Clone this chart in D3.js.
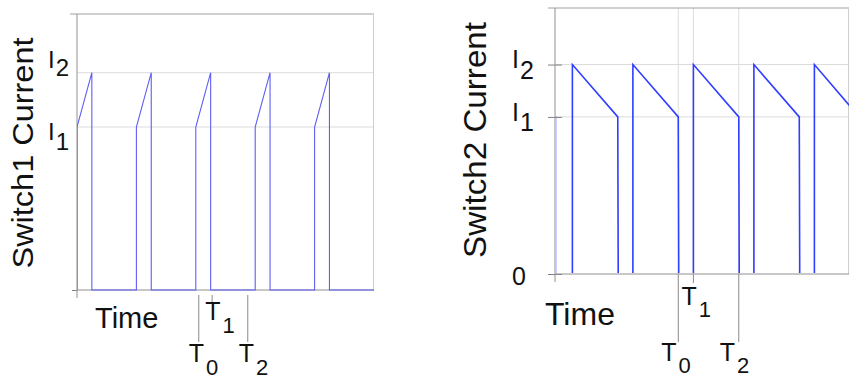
<!DOCTYPE html>
<html>
<head>
<meta charset="utf-8">
<script src="https://cdn.jsdelivr.net/npm/d3@7"></script>
<style>
  body { margin: 0; background: #fff; }
  svg { display: block; font-family: "Liberation Sans", Arial, sans-serif; }
</style>
</head>
<body>
<div id="chart"></div>
<script>
// current levels: 0, I1, I2
const levels = [0, 0.75, 1];
const levelNames = ["0", "I", "I"];
const levelSubs = ["", "1", "2"];

// switch 1: ramps up I1 -> I2 while on, 0 while off
const sw1Time = [0, 0, 1, 1, 4, 4, 5, 5, 8, 8, 9, 9, 12, 12, 13, 13, 16, 16, 17, 17, 20];
const sw1Current = [0, 0.75, 1, 0, 0, 0.75, 1, 0, 0, 0.75, 1, 0, 0, 0.75, 1, 0, 0, 0.75, 1, 0, 0];

// switch 2: ramps down I2 -> I1 while on, 0 while off
const sw2Time = [0, 0.03, 0.03, 1.15, 1.15, 4.15, 4.18, 5.15, 5.15, 8.15, 8.18, 9.15, 9.15, 12.15, 12.18,
  13.15, 13.15, 16.15, 16.18, 17.15, 17.15, 20];
const sw2Current = [0.76, 0.75, 0, 0, 1, 0.75, 0, 0, 1, 0.75, 0, 0, 1, 0.75, 0, 0, 1, 0.75, 0, 0, 1, 0.76];

const markNames = ["T", "T", "T"];
const markSubs = ["0", "1", "2"];
const sw1Marks = [8.2, 9.1, 11.5];
const sw2Marks = [8.15, 9.15, 12.15];

const timeDomain = [0, 20];
const currentDomain = [0, 1.27];

const panels = [
  {
    time: sw1Time, current: sw1Current, marks: sw1Marks,
    left: 77, right: 374, top: 14, bottom: 290, clipLeft: 77, clipRight: 374, clipBottom: 292,
    title: "Switch1 Current", titleX: 33, titleY: 153, titleSize: 29, titleLen: 231,
    timeX: 95, timeY: 328, timeSize: 29,
    levelShown: [false, true, true], levelTicks: [0],
    levelX: 48, levelDy: [0, 13, -5], levelSize: 24, levelSub: [0, 10, 8],
    markGrid: false, markTop: 295, markEnd: [342, 303, 342],
    markDx: [-10, -7, -9], markY: [362, 320, 362], markSize: 25, markSub: 13,
    stroke: "#5f5ff2", strokeWidth: 1.1, axisOnTop: false
  },
  {
    time: sw2Time, current: sw2Current, marks: sw2Marks,
    left: 555, right: 857.5, top: 8, bottom: 274, clipLeft: 556, clipRight: 849, clipBottom: 273,
    title: "Switch2 Current", titleX: 486, titleY: 140, titleSize: 32, titleLen: 236,
    timeX: 545, timeY: 325, timeSize: 32,
    levelShown: [true, true, true], levelTicks: [0, 0.75, 1],
    levelX: 512, levelDy: [11, 4, 3], levelSize: 25, levelSub: [0, 10, 11],
    markGrid: true, markTop: 274, markEnd: [342, 283, 342],
    markDx: [-17, -12, -19], markY: [361, 305, 361], markSize: 25, markSub: 12,
    stroke: "#2f3dff", strokeWidth: 1.6, axisOnTop: true
  }
];

const svg = d3.select("#chart")
  .append("svg")
  .attr("width", 849)
  .attr("height", 379);

panels.forEach((p, i) => {
  const x = d3.scaleLinear().domain(timeDomain).range([p.left, p.right]);
  const y = d3.scaleLinear().domain(currentDomain).range([p.bottom, p.top]);
  const g = svg.append("g");

  g.append("defs")
    .append("clipPath")
    .attr("id", "clip" + i)
    .append("rect")
    .attr("x", p.clipLeft)
    .attr("y", p.top - 2)
    .attr("width", p.clipRight - p.clipLeft)
    .attr("height", p.clipBottom - p.top + 2);

  // horizontal grid at I1, I2
  g.selectAll("line.hgrid")
    .data(levels.filter(v => v > 0))
    .enter()
    .append("line")
    .attr("class", "hgrid")
    .attr("x1", p.left)
    .attr("x2", p.clipRight)
    .attr("y1", d => y(d))
    .attr("y2", d => y(d))
    .style("stroke", "#dcdcdc");

  if (p.markGrid) {
    g.selectAll("line.vgrid")
      .data(p.marks)
      .enter()
      .append("line")
      .attr("class", "vgrid")
      .attr("x1", d => x(d))
      .attr("x2", d => x(d))
      .attr("y1", p.top)
      .attr("y2", p.bottom)
      .style("stroke", "#dcdcdc");
  }

  // frame: top and right
  g.append("line")
    .attr("x1", p.left - 7).attr("x2", p.clipRight)
    .attr("y1", p.top).attr("y2", p.top)
    .style("stroke", "#a0a0a0");
  g.append("line")
    .attr("x1", p.clipRight - 0.5).attr("x2", p.clipRight - 0.5)
    .attr("y1", p.top).attr("y2", p.bottom)
    .style("stroke", "#cfcfcf");

  // waveform
  const line = d3.line()
    .x(d => x(d[0]))
    .y(d => y(d[1]));

  const drawWave = () =>
    g.append("path")
      .datum(d3.zip(p.time, p.current))
      .attr("clip-path", "url(#clip" + i + ")")
      .attr("d", line)
      .style("fill", "none")
      .style("stroke", p.stroke)
      .style("stroke-width", p.strokeWidth);

  if (p.axisOnTop) drawWave();

  // axes
  g.append("g")
    .attr("transform", "translate(" + p.left + ",0)")
    .call(d3.axisLeft(y).tickValues(p.levelTicks).tickSize(7).tickFormat(""))
    .call(a => a.select(".domain").remove())
    .call(a => a.selectAll(".tick line").attr("x1", i ? 7 : 0).attr("x2", i ? -7 : -5).style("stroke", "#808080"));

  g.append("line")
    .attr("x1", p.left).attr("x2", p.left)
    .attr("y1", p.top).attr("y2", p.bottom + 8)
    .style("stroke", "#909090");
  g.append("line")
    .attr("x1", p.left).attr("x2", p.clipRight)
    .attr("y1", y(0)).attr("y2", y(0))
    .style("stroke", "#909090");

  if (!p.axisOnTop) drawWave();

  // level labels
  const lab = g.selectAll("text.level")
    .data(levels.filter((v, k) => p.levelShown[k]))
    .enter()
    .append("text")
    .attr("class", "level")
    .attr("x", p.levelX)
    .attr("y", d => y(d) + p.levelDy[levels.indexOf(d)])
    .style("font-size", p.levelSize + "px")
    .style("fill", "#111");
  lab.append("tspan").text(d => levelNames[levels.indexOf(d)]);
  lab.append("tspan")
    .attr("dx", 1)
    .attr("dy", d => p.levelSub[levels.indexOf(d)])
    .text(d => levelSubs[levels.indexOf(d)]);

  // T markers below the axis
  g.selectAll("line.mark")
    .data(p.marks)
    .enter()
    .append("line")
    .attr("class", "mark")
    .attr("x1", d => x(d))
    .attr("x2", d => x(d))
    .attr("y1", p.markTop)
    .attr("y2", (d, k) => p.markEnd[k])
    .style("stroke", "#8a8a8a");

  const mk = g.selectAll("text.mark")
    .data(p.marks)
    .enter()
    .append("text")
    .attr("class", "mark")
    .attr("x", (d, k) => x(d) + p.markDx[k])
    .attr("y", (d, k) => p.markY[k])
    .style("font-size", p.markSize + "px")
    .style("fill", "#111");
  mk.append("tspan").text((d, k) => markNames[k]);
  mk.append("tspan")
    .attr("dx", 2)
    .attr("dy", p.markSub)
    .style("font-size", (p.markSize - 3) + "px")
    .text((d, k) => markSubs[k]);

  // titles
  g.append("text")
    .attr("x", p.timeX)
    .attr("y", p.timeY)
    .style("font-size", p.timeSize + "px")
    .style("fill", "#111")
    .text("Time");

  g.append("text")
    .attr("transform", "translate(" + p.titleX + "," + p.titleY + ") rotate(-90)")
    .attr("text-anchor", "middle")
    .attr("textLength", p.titleLen)
    .attr("lengthAdjust", "spacingAndGlyphs")
    .style("font-size", p.titleSize + "px")
    .style("fill", "#111")
    .text(p.title);
});
</script>
</body>
</html>
